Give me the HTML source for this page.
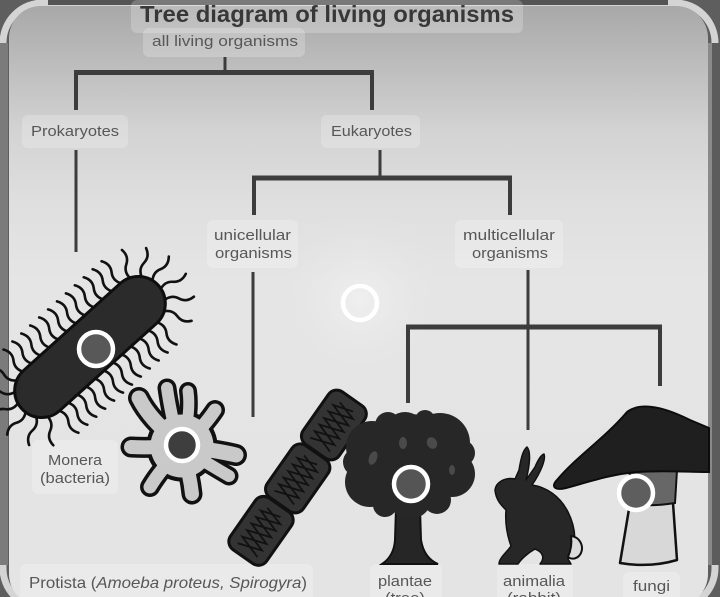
<!DOCTYPE html>
<html><head><meta charset="utf-8"><style>
html,body{margin:0;padding:0;background:#5e5e5e;}
svg{display:block;}
text{font-family:"Liberation Sans",sans-serif;}
</style></head><body>
<svg width="720" height="597" viewBox="0 0 720 597" xmlns="http://www.w3.org/2000/svg">
<defs>
<linearGradient id="bg" x1="0" y1="0" x2="0" y2="597" gradientUnits="userSpaceOnUse">
<stop offset="0" stop-color="#a6a6a6"/>
<stop offset="0.1" stop-color="#bbbbbb"/>
<stop offset="0.22" stop-color="#d3d3d3"/>
<stop offset="0.34" stop-color="#dfdfdf"/>
<stop offset="0.47" stop-color="#e5e5e5"/>
<stop offset="1" stop-color="#e4e4e4"/>
</linearGradient>
<radialGradient id="glow" cx="360" cy="300" r="90" gradientUnits="userSpaceOnUse">
<stop offset="0" stop-color="#f0f0f0" stop-opacity="0.9"/>
<stop offset="1" stop-color="#e4e4e4" stop-opacity="0"/>
</radialGradient>
<path id="fl" d="M0,0 q-5,-8 0,-15 t0,-15" fill="none" stroke="#111" stroke-width="2.6" stroke-linecap="round"/>
</defs>

<!-- frame -->
<rect x="0" y="0" width="720" height="597" fill="#5e5e5e"/>
<rect x="3" y="3" width="712" height="605" rx="40" fill="none" stroke="#d4d4d4" stroke-width="7"/>
<rect x="48" y="0" width="620" height="5" fill="#545454"/>
<rect x="0" y="43" width="8" height="522" fill="#7b7b7b"/>
<rect x="708" y="43" width="12" height="522" fill="#5c5c5c"/>
<rect x="708" y="43" width="4" height="522" fill="#8a8a8a"/>
<rect x="9" y="6" width="699" height="600" rx="32" fill="url(#bg)"/>
<rect x="260" y="210" width="200" height="180" fill="url(#glow)"/>

<!-- label boxes -->
<g fill="#ffffff" fill-opacity="0.22">
<rect x="131" y="0" width="392" height="33" rx="6"/>
<rect x="143" y="28" width="162" height="29" rx="6"/>
<rect x="22" y="115" width="106" height="33" rx="6"/>
<rect x="321" y="115" width="99" height="33" rx="6"/>
<rect x="207" y="220" width="91" height="48" rx="6"/>
<rect x="455" y="220" width="108" height="48" rx="6"/>
<rect x="32" y="440" width="86" height="54" rx="6"/>
<rect x="20" y="564" width="293" height="40" rx="6"/>
<rect x="370" y="564" width="72" height="40" rx="6"/>
<rect x="497" y="564" width="76" height="40" rx="6"/>
<rect x="623" y="572" width="57" height="32" rx="6"/>
</g>

<!-- tree connectors -->
<g stroke="#3c3c3c" stroke-linecap="butt" fill="none">
<line x1="225" y1="57" x2="225" y2="73" stroke-width="3"/>
<line x1="74" y1="72.5" x2="374" y2="72.5" stroke-width="5"/>
<line x1="76" y1="72" x2="76" y2="110" stroke-width="4"/>
<line x1="372" y1="72" x2="372" y2="110" stroke-width="4"/>
<line x1="76" y1="150" x2="76" y2="252" stroke-width="3"/>
<line x1="380" y1="150" x2="380" y2="178" stroke-width="3"/>
<line x1="252" y1="178" x2="512" y2="178" stroke-width="5"/>
<line x1="254" y1="178" x2="254" y2="215" stroke-width="4"/>
<line x1="510" y1="178" x2="510" y2="215" stroke-width="4"/>
<line x1="253" y1="272" x2="253" y2="417" stroke-width="3"/>
<line x1="528" y1="270" x2="528" y2="430" stroke-width="3"/>
<line x1="406" y1="327" x2="662" y2="327" stroke-width="5"/>
<line x1="408" y1="327" x2="408" y2="403" stroke-width="4"/>
<line x1="660" y1="327" x2="660" y2="386" stroke-width="4"/>
</g>

<!-- texts -->
<text x="140" y="22" font-size="23" font-weight="bold" fill="#383838" textLength="374" lengthAdjust="spacingAndGlyphs">Tree diagram of living organisms</text>
<g fill="#575757" font-size="15">
<text x="152" y="46" textLength="146" lengthAdjust="spacingAndGlyphs">all living organisms</text>
<text x="31" y="136" textLength="88" lengthAdjust="spacingAndGlyphs">Prokaryotes</text>
<text x="331" y="136" textLength="81" lengthAdjust="spacingAndGlyphs">Eukaryotes</text>
<text x="214" y="240" textLength="77" lengthAdjust="spacingAndGlyphs">unicellular</text>
<text x="215" y="258" textLength="77" lengthAdjust="spacingAndGlyphs">organisms</text>
<text x="463" y="240" textLength="92" lengthAdjust="spacingAndGlyphs">multicellular</text>
<text x="472" y="258" textLength="76" lengthAdjust="spacingAndGlyphs">organisms</text>
<text x="48" y="465" textLength="54" lengthAdjust="spacingAndGlyphs">Monera</text>
<text x="40" y="483" textLength="70" lengthAdjust="spacingAndGlyphs">(bacteria)</text>
<text x="29" y="588" font-size="16" textLength="278" lengthAdjust="spacingAndGlyphs">Protista (<tspan font-style="italic">Amoeba proteus, Spirogyra</tspan>)</text>
<text x="378" y="586" textLength="54" lengthAdjust="spacingAndGlyphs">plantae</text>
<text x="385" y="603" textLength="40" lengthAdjust="spacingAndGlyphs">(tree)</text>
<text x="503" y="586" textLength="62" lengthAdjust="spacingAndGlyphs">animalia</text>
<text x="507" y="603" textLength="54" lengthAdjust="spacingAndGlyphs">(rabbit)</text>
<text x="633" y="591" textLength="37" lengthAdjust="spacingAndGlyphs">fungi</text>
</g>

<!-- bacteria -->
<g transform="translate(90,347) rotate(-42)">
<g>
<use href="#fl" x="-66" y="-26"/><use href="#fl" x="-54" y="-26"/><use href="#fl" x="-42" y="-26"/>
<use href="#fl" x="-30" y="-26"/><use href="#fl" x="-18" y="-26"/><use href="#fl" x="-6" y="-26"/>
<use href="#fl" x="6" y="-26"/><use href="#fl" x="18" y="-26"/><use href="#fl" x="30" y="-26"/>
<use href="#fl" x="42" y="-26"/><use href="#fl" x="54" y="-26"/><use href="#fl" x="66" y="-26"/>
</g>
<g transform="rotate(180)">
<use href="#fl" x="-66" y="-26"/><use href="#fl" x="-54" y="-26"/><use href="#fl" x="-42" y="-26"/>
<use href="#fl" x="-30" y="-26"/><use href="#fl" x="-18" y="-26"/><use href="#fl" x="-6" y="-26"/>
<use href="#fl" x="6" y="-26"/><use href="#fl" x="18" y="-26"/><use href="#fl" x="30" y="-26"/>
<use href="#fl" x="42" y="-26"/><use href="#fl" x="54" y="-26"/><use href="#fl" x="66" y="-26"/>
</g>
<g transform="translate(65,0)">
<use href="#fl" transform="rotate(25) translate(0,-26)"/>
<use href="#fl" transform="rotate(50) translate(0,-26)"/>
<use href="#fl" transform="rotate(75) translate(0,-26)"/>
<use href="#fl" transform="rotate(100) translate(0,-26)"/>
<use href="#fl" transform="rotate(125) translate(0,-26)"/>
<use href="#fl" transform="rotate(150) translate(0,-26)"/>
</g>
<g transform="translate(-65,0)">
<use href="#fl" transform="rotate(-25) translate(0,-26)"/>
<use href="#fl" transform="rotate(-50) translate(0,-26)"/>
<use href="#fl" transform="rotate(-75) translate(0,-26)"/>
<use href="#fl" transform="rotate(-100) translate(0,-26)"/>
<use href="#fl" transform="rotate(-125) translate(0,-26)"/>
<use href="#fl" transform="rotate(-150) translate(0,-26)"/>
</g>
<rect x="-92" y="-27" width="184" height="54" rx="27" fill="#2b2b2b" stroke="#0e0e0e" stroke-width="3"/>
</g>
<circle cx="96" cy="349" r="17" fill="#585858" stroke="#ffffff" stroke-width="4.5"/>

<!-- amoeba -->
<g stroke-linecap="round" fill="none">
<g stroke="#111">
<path d="M178,442 Q150,420 139,398" stroke-width="22"/>
<path d="M178,442 Q170,410 167,388" stroke-width="19"/>
<path d="M183,442 Q191,412 188,391" stroke-width="18"/>
<path d="M186,444 Q205,425 215,410" stroke-width="20"/>
<path d="M186,447 Q215,450 236,455" stroke-width="22"/>
<path d="M186,450 Q210,465 229,476" stroke-width="19"/>
<path d="M183,452 Q190,475 192,494" stroke-width="21"/>
<path d="M179,451 Q160,470 150,487" stroke-width="20"/>
<path d="M177,446 Q150,448 131,447" stroke-width="21"/>
<circle cx="182" cy="446" r="35" fill="#111"/>
</g>
<g stroke="#c9c9c9">
<path d="M178,442 Q150,420 139,398" stroke-width="15"/>
<path d="M178,442 Q170,410 167,388" stroke-width="12"/>
<path d="M183,442 Q191,412 188,391" stroke-width="11"/>
<path d="M186,444 Q205,425 215,410" stroke-width="13"/>
<path d="M186,447 Q215,450 236,455" stroke-width="15"/>
<path d="M186,450 Q210,465 229,476" stroke-width="12"/>
<path d="M183,452 Q190,475 192,494" stroke-width="14"/>
<path d="M179,451 Q160,470 150,487" stroke-width="13"/>
<path d="M177,446 Q150,448 131,447" stroke-width="14"/>
<circle cx="182" cy="446" r="31.5" fill="#c9c9c9" stroke="none"/>
</g>
</g>
<circle cx="182" cy="445" r="16" fill="#3e3e3e" stroke="#ffffff" stroke-width="4.5"/>

<!-- spirogyra -->
<g transform="translate(298,478) rotate(-55)">
<g fill="#333" stroke="#111" stroke-width="3">
<rect x="-96" y="-22" width="63" height="44" rx="10"/>
<rect x="-32" y="-22" width="63" height="44" rx="10"/>
<rect x="32" y="-23" width="64" height="44" rx="10"/>
</g>
<g fill="none" stroke="#111" stroke-width="1.8">
<path d="M-88,-12 L-80,12 L-72,-12 L-64,12 L-56,-12 L-48,12 L-42,-8"/>
<path d="M-88,12 L-80,-12 L-72,12 L-64,-12 L-56,12 L-48,-12 L-42,8"/>
<path d="M-24,-12 L-16,12 L-8,-12 L0,12 L8,-12 L16,12 L22,-8"/>
<path d="M-24,12 L-16,-12 L-8,12 L0,-12 L8,12 L16,-12 L22,8"/>
<path d="M40,-13 L48,11 L56,-13 L64,11 L72,-13 L80,11 L86,-9"/>
<path d="M40,11 L48,-13 L56,11 L64,-13 L72,11 L80,-13 L86,7"/>
</g>
</g>

<!-- tree -->
<g fill="#262626" stroke="#111" stroke-width="2">
<path d="M396,508 L420,508 L421,540 Q424,558 438,564 L382,564 Q394,556 395,540 Z"/>
</g>
<g fill="#272727">
<circle cx="410" cy="460" r="46"/>
<circle cx="372" cy="447" r="26"/>
<circle cx="440" cy="443" r="30"/>
<circle cx="405" cy="432" r="20"/>
<circle cx="452" cy="474" r="23"/>
<circle cx="370" cy="482" r="25"/>
<circle cx="410" cy="497" r="22"/>
<circle cx="357" cy="462" r="14"/>
<circle cx="388" cy="425" r="13"/>
<circle cx="425" cy="420" r="10"/>
<circle cx="462" cy="453" r="13"/>
<circle cx="437" cy="500" r="14"/>
<circle cx="385" cy="505" r="12"/>
</g>
<g fill="#4a4a4a">
<ellipse cx="373" cy="458" rx="4" ry="7" transform="rotate(20 373 458)"/>
<ellipse cx="403" cy="443" rx="4" ry="6"/>
<ellipse cx="432" cy="443" rx="5" ry="6" transform="rotate(-30 432 443)"/>
<ellipse cx="452" cy="470" rx="3" ry="5"/>
</g>
<circle cx="411" cy="484" r="17" fill="#555" stroke="#ffffff" stroke-width="4.5"/>

<!-- rabbit -->
<path d="M495,490 C496,482 505,477 515,479 L519,470 C521,458 523,450 527,447 C531,451 530,465 526,480 L535,467 C538,460 541,455 544,454 C546,459 541,472 532,485 C546,487 560,496 568,512 C576,528 578,548 568,559 L571,564 L540,564 C545,558 543,552 535,549 C528,553 521,559 518,564 L499,564 C499,558 507,552 511,546 C507,535 505,522 506,510 C501,505 496,500 495,490 Z" fill="#272727" stroke="#111" stroke-width="1.5" stroke-linejoin="round"/>
<path d="M571,536 C580,537 584,546 581,553 C578,559 572,560 568,557 C571,550 572,543 571,536 Z" fill="#dcdcdc" stroke="#111" stroke-width="2"/>

<!-- mushroom -->
<path d="M630,503 L673,503 L677,560 Q650,568 620,563 Z" fill="#d8d8d8" stroke="#111" stroke-width="2.5" stroke-linejoin="round"/>
<path d="M630,470 L677,470 L675,503 Q650,507 628,504 Z" fill="#676767" stroke="#111" stroke-width="2"/>
<path d="M557,480 C575,458 605,438 627,412 C640,402 662,406 690,420 L709,428 L709,472 C690,472 660,470 637,472 C610,474 582,484 566,488 C554,491 551,486 557,480 Z" fill="#1f1f1f" stroke="#0c0c0c" stroke-width="2"/>
<circle cx="636" cy="493" r="17" fill="#5e5e5e" stroke="#ffffff" stroke-width="4.5"/>

<!-- center marker -->
<circle cx="360" cy="303" r="17" fill="none" stroke="#ffffff" stroke-width="4.5"/>
</svg>
</body></html>
